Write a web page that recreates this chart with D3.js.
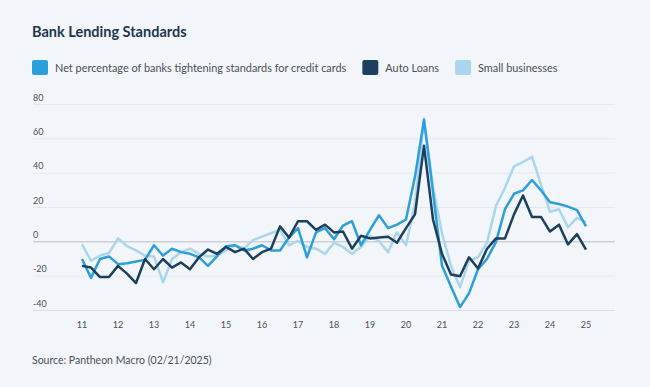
<!DOCTYPE html>
<meta charset="utf-8">
<style>
* { margin: 0; padding: 0; }
body { background: #f2f6fa; }
svg { display: block; font-family: Lato, "Open Sans", sans-serif; }
.grid line { stroke: #e2e8ee; stroke-width: 1; }
.ylab, .xlab { fill: #4a4f55; font-size: 9px; }
.series { fill: none; stroke-width: 2.5; stroke-linejoin: round; }
</style>
<body>
<script src="https://cdn.jsdelivr.net/npm/d3@7"></script>
<script>

// quarterly, 2011Q1 .. 2025Q1
var startYear = 2011;

var creditCards = [-10, -21, -10, -8.5, -13, -12.5, -11.5, -10.5, -2, -8, -4, -6, -7, -9, -14, -8.5,
  -2.5, -2, -5, -4, -2, -5, -5, 2.5, 8, -9, 5.5, 8, 1.5, 9.5, 12, -2, 7, 15.5, 8, 10, 13,
  38, 71, 29, -14, -26, -38, -30, -16, -10, 0, 19, 28, 30, 36, 30, 23, 22, 20.5, 18.5, 9];

var autoLoans = [-14, -15, -20.5, -20.5, -14, -18.5, -24, -10, -16, -10, -15, -12, -16, -9, -4.5, -7,
  -3, -6, -4, -10, -6, -4, 9, 2.5, 12, 12, 7, 10, 5.5, 6, -4, 3.5, 2, 2.5, 3, -0.5, 8,
  16, 56, 13, -7, -19, -20, -9, -15.5, -4, 2, 2, 16, 27, 14.5, 14.5, 6, 10, -1.5, 4.5, -4.5];

var smallBiz = [-1.5, -11, -8, -6.5, 2, -2.5, -5, -8, -8.5, -23.5, -10, -6, -4, -7, -8.5, -8,
  -5, -2, -4, 1, 3, 5, 7, -2, 0.5, -3, -4, -7, -0.5, -3, -7, -3, 3.5, 0.5, -6, 5.5, -2,
  22, 72, 32, 5, -14, -26.5, -11, -9, -0.5, 21, 31.5, 44, 46.5, 49.5, 33.5, 17.5, 19, 8.5, 14, 11.5];

var seriesNames = ["Net percentage of banks tightening standards for credit cards", "Auto Loans", "Small businesses"];
var seriesColors = ["#2b9fd9", "#1c3f5e", "#a9d6ec"];

var yTicks = [80, 60, 40, 20, 0, -20, -40];
var xTickYears = [2011, 2012, 2013, 2014, 2015, 2016, 2017, 2018, 2019, 2020, 2021, 2022, 2023, 2024, 2025];
var xTickLabels = ["11", "12", "13", "14", "15", "16", "17", "18", "19", "20", "21", "22", "23", "24", "25"];

var width = 650, height = 387;

var svg = d3.select("body").append("svg")
    .attr("width", width)
    .attr("height", height);

var x = d3.scaleLinear().domain([2011, 2025]).range([82, 586]);
var y = d3.scaleLinear().domain([-40, 80]).range([310.5, 104.5]);

// title
svg.append("text")
    .attr("x", 32).attr("y", 37)
    .attr("fill", "#1f3550")
    .attr("font-size", "14.5px")
    .attr("font-weight", "bold")
    .text("Bank Lending Standards");

// legend
var lx = 32;
seriesNames.forEach(function(name, i) {
    svg.append("rect")
        .attr("x", lx).attr("y", 60)
        .attr("width", 16).attr("height", 15)
        .attr("rx", 2)
        .attr("fill", seriesColors[i]);
    var t = svg.append("text")
        .attr("x", lx + 23).attr("y", 71.5)
        .attr("fill", "#4a4f55")
        .attr("font-size", "10.9px")
        .text(name);
    lx += 23 + t.node().getComputedTextLength() + 16;
});

// grid
var grid = svg.append("g").attr("class", "grid");
grid.selectAll("line").data(yTicks).enter().append("line")
    .attr("x1", 33).attr("x2", 615)
    .attr("y1", function(d) { return y(d); })
    .attr("y2", function(d) { return y(d); })
    .style("stroke", function(d) { return d == 0 ? "#b9bec4" : (d == -40 ? "#d6dde4" : null); });

svg.selectAll(".ylab").data(yTicks).enter().append("text")
    .attr("class", "ylab")
    .attr("x", 33)
    .attr("y", function(d) { return y(d) - 4; })
    .text(function(d) { return d; });

svg.selectAll(".xlab").data(xTickYears).enter().append("text")
    .attr("class", "xlab")
    .attr("x", function(d) { return x(d); })
    .attr("y", 328)
    .attr("text-anchor", "middle")
    .text(function(d, i) { return xTickLabels[i]; });

// lines
var line = d3.line()
    .x(function(d, i) { return x(startYear + i / 4); })
    .y(function(d) { return y(d); });

[smallBiz, creditCards, autoLoans].forEach(function(s) {
    var idx = s === creditCards ? 0 : (s === autoLoans ? 1 : 2);
    svg.append("path")
        .attr("class", "series")
        .attr("stroke", seriesColors[idx])
        .attr("d", line(s));
});

// source
svg.append("text")
    .attr("x", 32).attr("y", 364)
    .attr("fill", "#4a4f55")
    .attr("font-size", "10.5px")
    .text("Source: Pantheon Macro (02/21/2025)");

</script>
